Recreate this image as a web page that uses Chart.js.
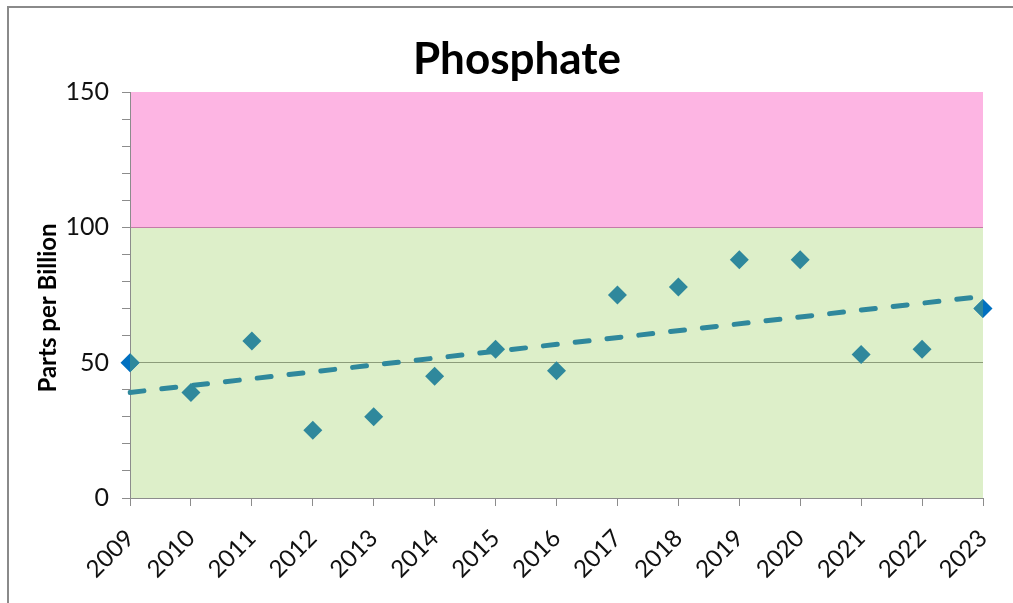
<!DOCTYPE html>
<html lang="en">
<head>
  <meta charset="UTF-8" />
  <title>Phosphate</title>
  <script src="https://cdn.jsdelivr.net/npm/chart.js"></script>
  <style>
    html, body {
      margin: 0;
      padding: 0;
      background: #ffffff;
    }
    #wrap {
      width: 1013px;
      height: 603px;
    }
  </style>
</head>
<body>
  <div id="wrap"><canvas id="phosChart"></canvas></div>

  <script>
    // values
    const years = ['2009', '2010', '2011', '2012', '2013', '2014', '2015', '2016',
                   '2017', '2018', '2019', '2020', '2021', '2022', '2023'];
    const phosphate = [50, 39, 58, 25, 30, 45, 55, 47, 75, 78, 88, 88, 53, 55, 70];
    const trendEnds = [39, 74.5];     // dashed trend line at 2009 and 2023
    const zoneLimits = [0, 100, 150]; // green zone, pink zone
    const yLabelTicks = [0, 50, 100, 150];

    const FONT = 'Lato, "Open Sans", sans-serif';
    const TEAL = '#2f889c';
    const BLUE = '#0070c0';

    const trendData = years.map((y, i) => {
      if (i === 0) return trendEnds[0];
      if (i === years.length - 1) return trendEnds[1];
      return null;
    });
    const endPoints = phosphate.map((v, i) => (i === 0 || i === years.length - 1) ? v : null);

    // background bands, outer frame, and the titles (Excel puts them off-centre)
    const decor = {
      id: 'decor',
      beforeDraw(chart) {
        const { ctx, chartArea: a, scales: { y } } = chart;
        const colors = ['#ddefc9', '#fdb5e3'];
        ctx.save();
        for (let i = 0; i < zoneLimits.length - 1; i++) {
          const top = y.getPixelForValue(zoneLimits[i + 1]);
          const bot = y.getPixelForValue(zoneLimits[i]);
          ctx.fillStyle = colors[i];
          ctx.fillRect(a.left, top, a.right - a.left, bot - top);
        }
        ctx.restore();
      },
      afterDraw(chart) {
        const ctx = chart.ctx;
        ctx.save();
        ctx.strokeStyle = '#8a8a8a';
        ctx.lineWidth = 2;
        ctx.beginPath();
        ctx.moveTo(8, 603);
        ctx.lineTo(8, 7);
        ctx.lineTo(1013, 7);
        ctx.stroke();

        ctx.fillStyle = '#000';
        ctx.textAlign = 'center';
        ctx.textBaseline = 'middle';
        ctx.font = 'bold 44px ' + FONT;
        ctx.fillText('Phosphate', 517, 60);

        ctx.translate(48, 308);
        ctx.rotate(-Math.PI / 2);
        ctx.font = 'bold 24px ' + FONT;
        ctx.fillText('Parts per Billion', 0, 0);
        ctx.restore();
      }
    };

    new Chart(document.getElementById('phosChart'), {
      type: 'line',
      data: {
        labels: years,
        datasets: [
          {
            label: 'Phosphate',
            data: phosphate,
            showLine: false,
            pointStyle: 'rectRot',
            pointRadius: 9.5,
            pointHoverRadius: 9.5,
            pointBackgroundColor: TEAL,
            pointBorderColor: TEAL,
            pointBorderWidth: 0,
            clip: 0
          },
          {
            label: 'ends',
            data: endPoints,
            showLine: false,
            pointStyle: 'rectRot',
            pointRadius: 9.5,
            pointBackgroundColor: BLUE,
            pointBorderColor: BLUE,
            pointBorderWidth: 0,
            clip: false
          },
          {
            label: 'Trend',
            data: trendData,
            spanGaps: true,
            borderColor: TEAL,
            borderWidth: 5,
            borderDash: [14, 18],
            borderCapStyle: 'round',
            pointRadius: 0,
            fill: false
          }
        ]
      },
      options: {
        responsive: true,
        maintainAspectRatio: false,
        animation: false,
        layout: { padding: { left: 0, right: 30, top: 92, bottom: 0 } },
        plugins: {
          legend: { display: false },
          tooltip: { enabled: false },
          title: { display: false }
        },
        scales: {
          x: {
            offset: false,
            grid: {
              drawOnChartArea: false,
              tickLength: 8,
              tickColor: '#8c8c8c'
            },
            border: { color: '#8c8c8c', width: 1 },
            ticks: {
              color: '#111',
              font: { family: FONT, size: 24 },
              maxRotation: 45,
              minRotation: 45,
              autoSkip: false,
              padding: 18
            },
            afterFit(scale) {
              scale.height = 105;
              scale.paddingLeft = 0;
              scale.paddingRight = 0;
            }
          },
          y: {
            min: 0,
            max: 150,
            ticks: {
              stepSize: 10,
              autoSkip: false,
              color: '#111',
              font: { family: FONT, size: 25 },
              padding: 13,
              callback: v => yLabelTicks.includes(v) ? v : ''
            },
            grid: {
              tickLength: 8,
              tickColor: '#8c8c8c',
              color: ctx => {
                const v = ctx.tick && ctx.tick.value;
                if (v === 50) return '#8c9c7a';
                if (v === 100) return '#c57aa8';
                return 'rgba(0,0,0,0)';
              }
            },
            border: { color: '#8c8c8c', width: 1 },
            afterFit(scale) { scale.width = 130; }
          }
        }
      },
      plugins: [decor]
    });
  </script>
</body>
</html>
